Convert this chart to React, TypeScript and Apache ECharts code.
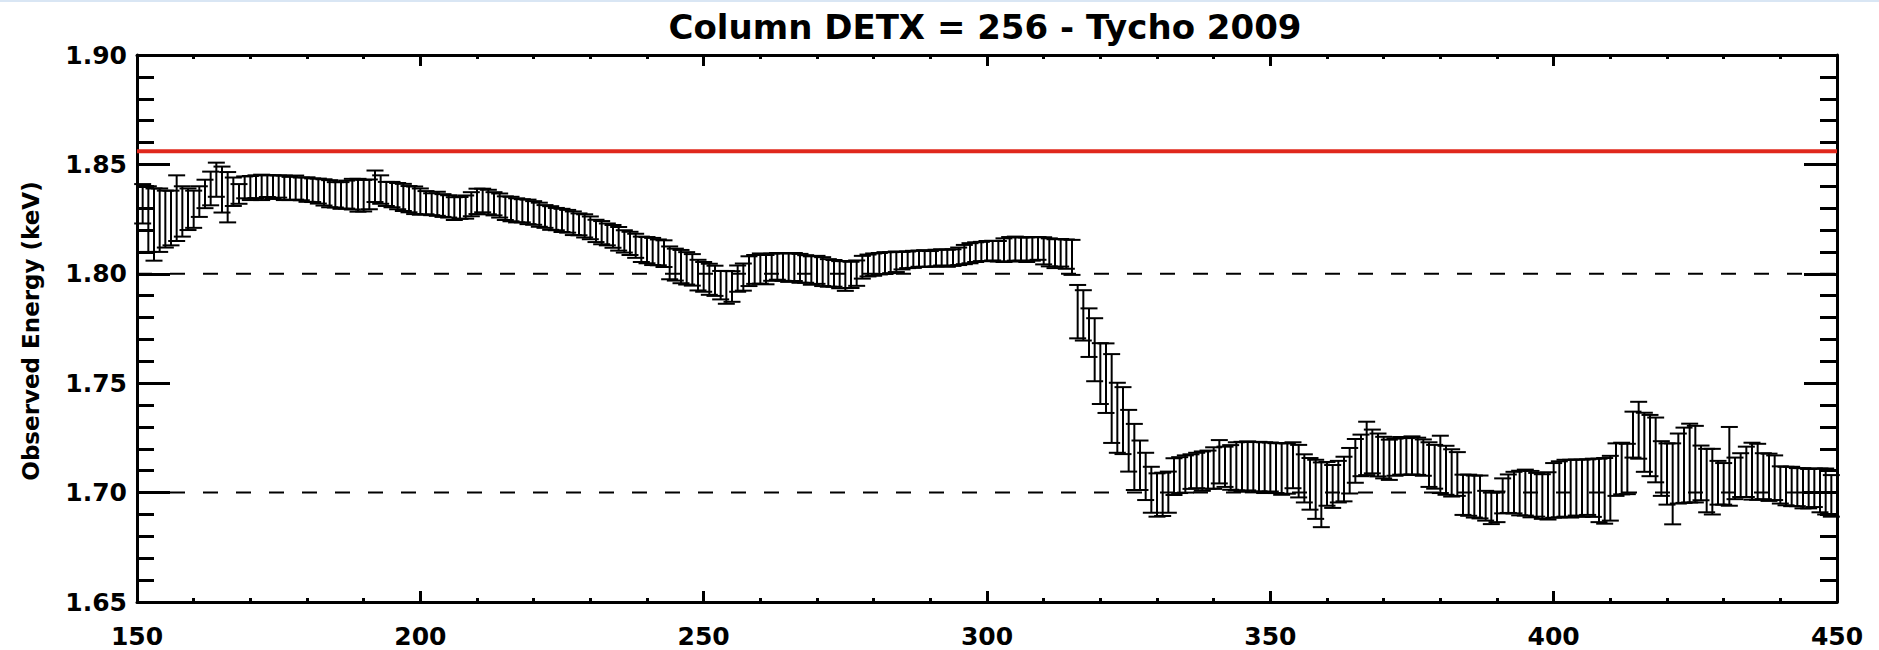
import React, { useEffect, useRef } from "react";
import * as echarts from "echarts";

// DETX columns start at 151 and go in steps of 1
const DETX_START = 151;
const DETX_STEP = 1;

// Observed line energy (keV) per DETX column
const centers: number[] = [
  1.8320, 1.8250, 1.8225, 1.8245, 1.8250, 1.8255, 1.8300, 1.8285, 1.8295, 1.8295,
  1.8330, 1.8365, 1.8390, 1.8430, 1.8385, 1.8350, 1.8375, 1.8365, 1.8395, 1.8392,
  1.8398, 1.8395, 1.8401, 1.8396, 1.8399, 1.8393, 1.8390, 1.8394, 1.8388, 1.8385,
  1.8382, 1.8378, 1.8372, 1.8366, 1.8361, 1.8358, 1.8362, 1.8364, 1.8359, 1.8357,
  1.8363, 1.8400, 1.8385, 1.8365, 1.8362, 1.8355, 1.8349, 1.8341, 1.8336, 1.8330,
  1.8325, 1.8318, 1.8320, 1.8312, 1.8308, 1.8298, 1.8301, 1.8305, 1.8318, 1.8331,
  1.8335, 1.8328, 1.8320, 1.8312, 1.8300, 1.8296, 1.8290, 1.8288, 1.8283, 1.8278,
  1.8270, 1.8262, 1.8255, 1.8250, 1.8244, 1.8240, 1.8231, 1.8226, 1.8219, 1.8210,
  1.8196, 1.8188, 1.8180, 1.8171, 1.8160, 1.8148, 1.8139, 1.8128, 1.8112, 1.8108,
  1.8102, 1.8098, 1.8092, 1.8050, 1.8042, 1.8033, 1.8025, 1.8018, 1.7994, 1.7986,
  1.7975, 1.7968, 1.7948, 1.7938, 1.7942, 1.7978, 1.7985, 1.8012, 1.8020, 1.8024,
  1.8019, 1.8030, 1.8034, 1.8031, 1.8028, 1.8031, 1.8025, 1.8022, 1.8015, 1.8018,
  1.8010, 1.8004, 1.8002, 1.7996, 1.7990, 1.7995, 1.8003, 1.8030, 1.8038, 1.8042,
  1.8046, 1.8049, 1.8051, 1.8055, 1.8060, 1.8064, 1.8066, 1.8069, 1.8070, 1.8068,
  1.8072, 1.8075, 1.8071, 1.8074, 1.8080, 1.8088, 1.8094, 1.8099, 1.8102, 1.8104,
  1.8106, 1.8103, 1.8108, 1.8112, 1.8115, 1.8113, 1.8110, 1.8114, 1.8116, 1.8105,
  1.8098, 1.8092, 1.8096, 1.8090, 1.8075, 1.7827, 1.7810, 1.7731, 1.7653, 1.7544,
  1.7523, 1.7430, 1.7342, 1.7329, 1.7237, 1.7163, 1.7125, 1.7074, 1.7013, 1.6989,
  1.6992, 1.7002, 1.7073, 1.7080, 1.7085, 1.7096, 1.7101, 1.7098, 1.7105, 1.7112,
  1.7141, 1.7118, 1.7115, 1.7120, 1.7118, 1.7122, 1.7116, 1.7119, 1.7114, 1.7117,
  1.7112, 1.7108, 1.7110, 1.7125, 1.7098, 1.7065, 1.7040, 1.7015, 1.6990, 1.7040,
  1.7028, 1.7050, 1.7062, 1.7100, 1.7145, 1.7170, 1.7202, 1.7188, 1.7172, 1.7160,
  1.7150, 1.7162, 1.7168, 1.7165, 1.7170, 1.7166, 1.7160, 1.7128, 1.7118, 1.7129,
  1.7102, 1.7090, 1.7085, 1.6990, 1.6988, 1.6982, 1.6980, 1.6940, 1.6928, 1.6935,
  1.6985, 1.6995, 1.7000, 1.6998, 1.7000, 1.6993, 1.6990, 1.6982, 1.6985, 1.7010,
  1.7015, 1.7020, 1.7018, 1.7023, 1.7020, 1.7025, 1.7022, 1.7010, 1.7008, 1.7020,
  1.7105, 1.7110, 1.7108, 1.7265, 1.7285, 1.7230, 1.7215, 1.7195, 1.7110, 1.7085,
  1.7040, 1.7110, 1.7125, 1.7135, 1.7130, 1.7090, 1.7055, 1.7050, 1.7045, 1.7040,
  1.7120, 1.7065, 1.7080, 1.7095, 1.7098, 1.7095, 1.7075, 1.7070, 1.7068, 1.7035,
  1.7030, 1.7028, 1.7025, 1.7020, 1.7018, 1.7022, 1.7010, 1.7005, 1.6985,
];

// 1-sigma errors (keV)
const errors: number[] = [
  0.0090, 0.0150, 0.0165, 0.0145, 0.0130, 0.0125, 0.0150, 0.0115, 0.0095, 0.0085,
  0.0070, 0.0065, 0.0077, 0.0078, 0.0105, 0.0115, 0.0065, 0.0045, 0.0050, 0.0055,
  0.0052, 0.0058, 0.0050, 0.0054, 0.0051, 0.0056, 0.0053, 0.0055, 0.0052, 0.0056,
  0.0054, 0.0057, 0.0060, 0.0062, 0.0058, 0.0061, 0.0064, 0.0070, 0.0075, 0.0072,
  0.0068, 0.0072, 0.0065, 0.0055, 0.0058, 0.0060, 0.0062, 0.0060, 0.0063, 0.0060,
  0.0053, 0.0050, 0.0055, 0.0052, 0.0051, 0.0052, 0.0050, 0.0053, 0.0055, 0.0058,
  0.0054, 0.0056, 0.0053, 0.0055, 0.0054, 0.0056, 0.0055, 0.0053, 0.0056, 0.0054,
  0.0055, 0.0052, 0.0054, 0.0051, 0.0053, 0.0052, 0.0054, 0.0050, 0.0053, 0.0052,
  0.0051, 0.0053, 0.0050, 0.0052, 0.0054, 0.0051, 0.0053, 0.0055, 0.0058, 0.0060,
  0.0062, 0.0059, 0.0061, 0.0075, 0.0073, 0.0076, 0.0074, 0.0072, 0.0070, 0.0068,
  0.0071, 0.0069, 0.0065, 0.0075, 0.0070, 0.0060, 0.0062, 0.0068, 0.0066, 0.0069,
  0.0067, 0.0062, 0.0061, 0.0063, 0.0065, 0.0064, 0.0066, 0.0063, 0.0065, 0.0064,
  0.0066, 0.0063, 0.0061, 0.0062, 0.0068, 0.0060, 0.0058, 0.0052, 0.0050, 0.0051,
  0.0049, 0.0050, 0.0048, 0.0047, 0.0040, 0.0038, 0.0039, 0.0037, 0.0038, 0.0036,
  0.0038, 0.0037, 0.0039, 0.0038, 0.0040, 0.0044, 0.0046, 0.0045, 0.0044, 0.0046,
  0.0045, 0.0047, 0.0054, 0.0056, 0.0055, 0.0053, 0.0056, 0.0054, 0.0052, 0.0062,
  0.0064, 0.0066, 0.0063, 0.0067, 0.0080, 0.0122, 0.0115, 0.0111, 0.0144, 0.0139,
  0.0159, 0.0203, 0.0160, 0.0153, 0.0141, 0.0151, 0.0113, 0.0108, 0.0105, 0.0099,
  0.0099, 0.0094, 0.0084, 0.0082, 0.0085, 0.0079, 0.0081, 0.0090, 0.0087, 0.0095,
  0.0099, 0.0092, 0.0102, 0.0110, 0.0114, 0.0112, 0.0115, 0.0113, 0.0116, 0.0112,
  0.0114, 0.0118, 0.0115, 0.0105, 0.0120, 0.0110, 0.0118, 0.0135, 0.0148, 0.0100,
  0.0098, 0.0095, 0.0102, 0.0104, 0.0100, 0.0095, 0.0122, 0.0100, 0.0098, 0.0095,
  0.0092, 0.0085, 0.0086, 0.0084, 0.0087, 0.0085, 0.0083, 0.0102, 0.0100, 0.0131,
  0.0112, 0.0108, 0.0100, 0.0092, 0.0094, 0.0096, 0.0098, 0.0068, 0.0072, 0.0070,
  0.0080, 0.0088, 0.0095, 0.0102, 0.0105, 0.0106, 0.0100, 0.0102, 0.0108, 0.0125,
  0.0128, 0.0130, 0.0132, 0.0128, 0.0131, 0.0127, 0.0133, 0.0145, 0.0150, 0.0148,
  0.0120, 0.0118, 0.0115, 0.0105, 0.0130, 0.0135, 0.0140, 0.0148, 0.0125, 0.0140,
  0.0185, 0.0160, 0.0172, 0.0180, 0.0175, 0.0125, 0.0145, 0.0150, 0.0100, 0.0095,
  0.0180, 0.0095, 0.0100, 0.0115, 0.0130, 0.0128, 0.0105, 0.0108, 0.0102, 0.0085,
  0.0088, 0.0090, 0.0087, 0.0092, 0.0090, 0.0088, 0.0100, 0.0105, 0.0095,
];

const X_MIN = 150;
const X_MAX = 450;
const Y_MIN = 1.65;
const Y_MAX = 1.9;
const REFERENCE_ENERGY = 1.856;
const DASHED_LEVELS = [1.8, 1.7];
const TITLE = "Column DETX = 256 - Tycho 2009";
const Y_NAME = "Observed Energy (keV)";

export default function App() {
  const ref = useRef<HTMLDivElement>(null);

  useEffect(() => {
    if (!ref.current) return;
    const chart = echarts.init(ref.current, null, { renderer: "svg" });

    const errData = centers.map((c, i) => [
      DETX_START + i * DETX_STEP,
      c - errors[i],
      c + errors[i],
    ]);

    const labelFont = {
      fontFamily: "DejaVu Sans",
      fontWeight: "bold" as const,
      color: "#000",
    };

    const commonX = {
      type: "value" as const,
      min: X_MIN,
      max: X_MAX,
      interval: 50,
      splitLine: { show: false },
      axisLine: { show: true, onZero: false, lineStyle: { color: "#000", width: 3 } },
      axisTick: { show: true, inside: true, length: 11, lineStyle: { color: "#000", width: 3 } },
      minorTick: { show: true, splitNumber: 5, length: 4, lineStyle: { color: "#000", width: 3 } },
    };
    const commonY = {
      type: "value" as const,
      min: Y_MIN,
      max: Y_MAX,
      interval: 0.05,
      splitLine: { show: false },
      axisLine: { show: true, onZero: false, lineStyle: { color: "#000", width: 3 } },
      axisTick: { show: true, inside: true, length: 33, lineStyle: { color: "#000", width: 3 } },
      minorTick: { show: true, splitNumber: 5, length: 17, lineStyle: { color: "#000", width: 3 } },
    };

    chart.setOption({
      animation: false,
      backgroundColor: "#fff",
      grid: { left: 137, right: 42, top: 55, bottom: 48, containLabel: false },
      graphic: [
        {
          type: "rect",
          left: 0,
          top: 0,
          shape: { width: 1879, height: 2 },
          style: { fill: "#d9e6f4" },
          silent: true,
        },
        {
          type: "text",
          x: 985,
          y: 27,
          style: {
            text: TITLE,
            fontFamily: "DejaVu Sans",
            fontWeight: "bold",
            fontSize: 34,
            fill: "#000",
            textAlign: "center",
            textVerticalAlign: "middle",
          },
        },
        {
          type: "text",
          x: 31,
          y: 331,
          rotation: Math.PI / 2,
          style: {
            text: Y_NAME,
            fontFamily: "DejaVu Sans",
            fontWeight: "bold",
            fontSize: 23,
            fill: "#000",
            textAlign: "center",
            textVerticalAlign: "middle",
          },
        },
      ],
      xAxis: [
        {
          ...commonX,
          position: "bottom",
          axisLabel: { ...labelFont, fontSize: 25, margin: 22, formatter: (v: number) => String(v) },
        },
        {
          ...commonX,
          position: "top",
          axisLabel: { show: false },
        },
      ],
      yAxis: [
        {
          ...commonY,
          position: "left",
          axisLabel: { ...labelFont, fontSize: 25, margin: 10, formatter: (v: number) => v.toFixed(2) },
        },
        {
          ...commonY,
          position: "right",
          axisLabel: { show: false },
        },
      ],
      series: [
        ...DASHED_LEVELS.map((lvl) => ({
          type: "line",
          xAxisIndex: 0,
          yAxisIndex: 0,
          data: [
            [X_MIN, lvl],
            [X_MAX, lvl],
          ],
          symbol: "none",
          silent: true,
          lineStyle: { color: "#000", width: 2, type: [15, 18] },
          z: 1,
        })),
        {
          type: "line",
          xAxisIndex: 0,
          yAxisIndex: 0,
          data: [
            [X_MIN, REFERENCE_ENERGY],
            [X_MAX, REFERENCE_ENERGY],
          ],
          symbol: "none",
          silent: true,
          lineStyle: { color: "#e0281c", width: 4 },
          z: 2,
        },
        {
          type: "custom",
          xAxisIndex: 0,
          yAxisIndex: 0,
          data: errData,
          encode: { x: 0, y: [1, 2] },
          z: 3,
          renderItem: (_params: any, api: any) => {
            const x = api.value(0);
            const lo = api.coord([x, api.value(1)]);
            const hi = api.coord([x, api.value(2)]);
            const hw = 8.5;
            const style = { stroke: "#000", lineWidth: 2 };
            return {
              type: "group",
              children: [
                { type: "line", shape: { x1: lo[0], y1: lo[1], x2: hi[0], y2: hi[1] }, style },
                { type: "line", shape: { x1: lo[0] - hw, y1: lo[1], x2: lo[0] + hw, y2: lo[1] }, style },
                { type: "line", shape: { x1: hi[0] - hw, y1: hi[1], x2: hi[0] + hw, y2: hi[1] }, style },
              ],
            };
          },
        },
      ],
    });

    return () => chart.dispose();
  }, []);

  return (
    <div
      ref={ref}
      style={{ position: "absolute", left: 0, top: 0, width: 1879, height: 650 }}
    />
  );
}
